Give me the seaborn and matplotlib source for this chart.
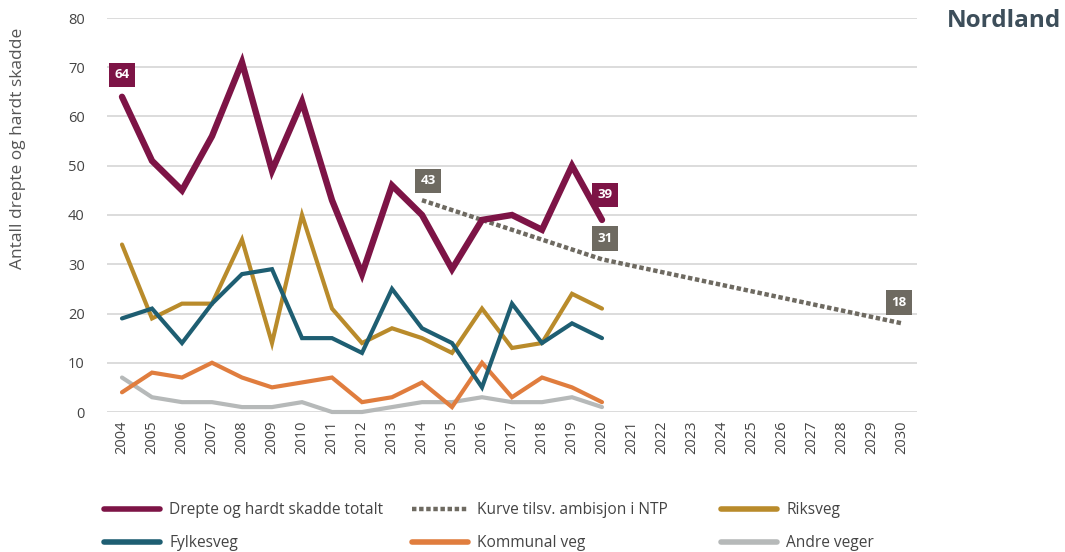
import matplotlib
matplotlib.use("Agg")
import matplotlib.pyplot as plt
import seaborn as sns
import pandas as pd
from matplotlib.lines import Line2D

years = list(range(2004, 2021))
totalt = [64, 51, 45, 56, 71, 49, 63, 43, 28, 46, 40, 29, 39, 40, 37, 50, 39]
riksveg = [34, 19, 22, 22, 35, 14, 40, 21, 14, 17, 15, 12, 21, 13, 14, 24, 21]
fylkesveg = [19, 21, 14, 22, 28, 29, 15, 15, 12, 25, 17, 14, 5, 22, 14, 18, 15]
kommunal = [4, 8, 7, 10, 7, 5, 6, 7, 2, 3, 6, 1, 10, 3, 7, 5, 2]
andre = [7, 3, 2, 2, 1, 1, 2, 0, 0, 1, 2, 2, 3, 2, 2, 3, 1]

ntp_years = list(range(2014, 2031))
ntp = [43, 41, 39, 37, 35, 33, 31, 29.7, 28.4, 27.1, 25.8, 24.5, 23.2, 21.9, 20.6, 19.3, 18]

x_ticks = list(range(2004, 2031))

names = {
    "tot": "Drepte og hardt skadde totalt",
    "ntp": "Kurve tilsv. ambisjon i NTP",
    "riks": "Riksveg",
    "fylke": "Fylkesveg",
    "komm": "Kommunal veg",
    "andre": "Andre veger",
}
colors = {
    "tot": "#7D1446",
    "ntp": "#6E6A61",
    "riks": "#B98B2B",
    "fylke": "#1E5E72",
    "komm": "#E07D3E",
    "andre": "#B6B9B9",
}

sns.set_style("white")
plt.rcParams["font.family"] = ["Open Sans", "DejaVu Sans"]

fig = plt.figure(figsize=(10.65, 5.52), dpi=100)
ax = fig.add_axes([107 / 1065, 1 - 412 / 552, (917 - 107) / 1065, (412 - 18) / 552])

df = pd.DataFrame({
    "year": years * 5,
    "value": totalt + riksveg + fylkesveg + kommunal + andre,
    "serie": ["tot"] * 17 + ["riks"] * 17 + ["fylke"] * 17 + ["komm"] * 17 + ["andre"] * 17,
})
df_ntp = pd.DataFrame({"year": ntp_years, "value": ntp})

widths = {"tot": 4.6, "riks": 3.0, "fylke": 3.0, "komm": 3.0, "andre": 3.0}
for key in ["andre", "komm", "riks", "fylke"]:
    sns.lineplot(data=df[df.serie == key], x="year", y="value", ax=ax,
                 color=colors[key], linewidth=widths[key], legend=False,
                 solid_capstyle="round", solid_joinstyle="miter", clip_on=False)
sns.lineplot(data=df_ntp, x="year", y="value", ax=ax, color=colors["ntp"],
             linewidth=3.2, legend=False, clip_on=False, dashes=False)
ax.lines[-1].set_dashes([1.0, 0.6])
sns.lineplot(data=df[df.serie == "tot"], x="year", y="value", ax=ax,
             color=colors["tot"], linewidth=widths["tot"], legend=False,
             solid_capstyle="round", solid_joinstyle="miter", clip_on=False)

ax.set_xlim(2003.5, 2030.5)
ax.set_ylim(0, 80)
ax.set_yticks(range(0, 81, 10))
ax.set_xticks(x_ticks)
ax.set_xticklabels([str(y) for y in x_ticks], rotation=90)
ax.tick_params(axis="both", length=0, labelsize=10.5, colors="#444444")
ax.tick_params(axis="y", pad=16)
ax.tick_params(axis="x", pad=6)
ax.yaxis.grid(True, color="#D9D9D9", linewidth=1.3)
ax.xaxis.grid(False)
ax.set_axisbelow(True)
for s in ax.spines.values():
    s.set_visible(False)
ax.set_xlabel("")
ax.set_ylabel("")
fig.text(18 / 1065, 1 - 148 / 552, "Antall drepte og hardt skadde", rotation=90,
         ha="center", va="center", fontsize=12.5, color="#555555")


def value_box(x, y, text, color, dy):
    ax.annotate(text, xy=(x, y), xytext=(0, dy), textcoords="offset points",
                ha="center", va="center", fontsize=9.5, fontweight="bold",
                color="white", annotation_clip=False,
                bbox=dict(boxstyle="square,pad=0.42", fc=color, ec="none"))


value_box(years[0], totalt[0], str(totalt[0]), colors["tot"], 16)
value_box(years[-1] + 0.1, totalt[-1], str(totalt[-1]), colors["tot"], 18)
value_box(ntp_years[0] + 0.2, ntp[0], str(ntp[0]), colors["ntp"], 14)
value_box(ntp_years[6] + 0.1, ntp[6], str(ntp[6]), colors["ntp"], 15)
value_box(ntp_years[-1] - 0.1, ntp[-1], str(ntp[-1]), colors["ntp"], 15)

fig.text(1061 / 1065, 1 - 21 / 552, "Nordland", ha="right", va="center",
         fontsize=17.5, fontweight="bold", color="#3D4E5A")


def handle(key):
    if key == "ntp":
        return Line2D([], [], color=colors[key], linewidth=3.2, dashes=[1.0, 0.6])
    return Line2D([], [], color=colors[key], linewidth=4.0, solid_capstyle="round")


columns = [("tot", "fylke"), ("ntp", "komm"), ("riks", "andre")]
col_x = [104, 412, 721]
for (k1, k2), cx in zip(columns, col_x):
    lg = fig.legend([handle(k1), handle(k2)], [names[k1], names[k2]],
                    loc="upper left", bbox_to_anchor=(cx / 1065, 1 - 502 / 552),
                    frameon=False, fontsize=11.2, handlelength=3.6,
                    handletextpad=0.6, labelspacing=1.1, borderpad=0,
                    borderaxespad=0)
    for t in lg.get_texts():
        t.set_color("#444444")

fig.savefig("out.png", dpi=100)
